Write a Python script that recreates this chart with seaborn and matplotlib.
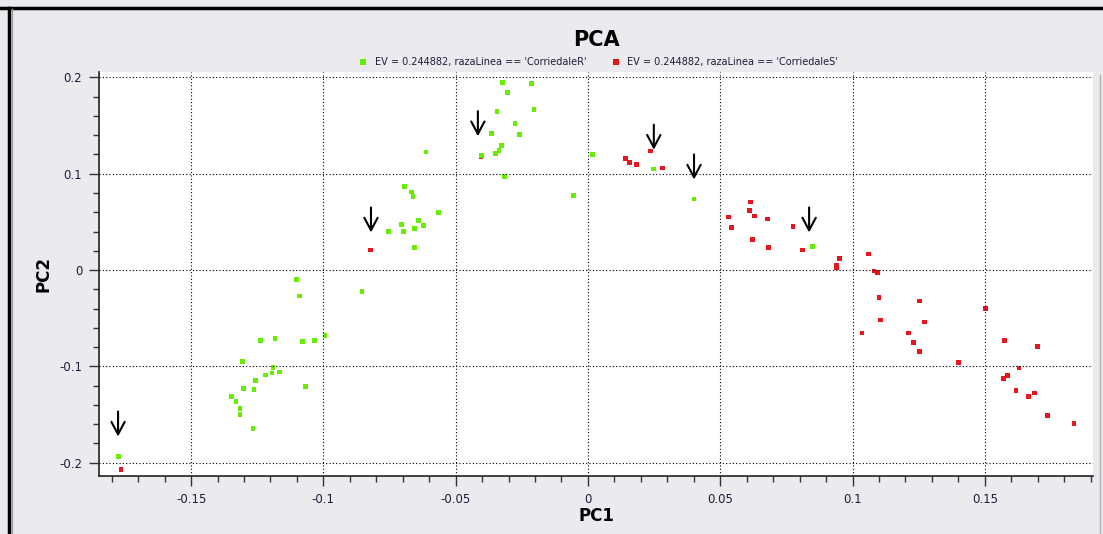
import matplotlib
matplotlib.use('Agg')
import matplotlib.pyplot as plt
import seaborn as sns
import pandas as pd
from matplotlib.lines import Line2D
from matplotlib.ticker import MultipleLocator

# --- data ---
label_r = "EV = 0.244882, razaLinea == 'CorriedaleR'"
label_s = "EV = 0.244882, razaLinea == 'CorriedaleS'"

green_x = [-0.1773, -0.1102, -0.1091, -0.0854, -0.1238, -0.1183, -0.1078, -0.1034, -0.0994,
           -0.1306, -0.1190, -0.1218, -0.1194, -0.1167, -0.1255, -0.1303, -0.1262, -0.1066,
           -0.1347, -0.1330, -0.1315, -0.1315, -0.1266,
           -0.0324, -0.0212, -0.0304, -0.0344, -0.0204, -0.0276, -0.0364, -0.0259, -0.0328,
           -0.0336, -0.0349, -0.0401, 0.0016, -0.0612, -0.0316, -0.0055, -0.0693, -0.0667,
           -0.0661, -0.0566, -0.0705, -0.0641, -0.0621, -0.0654, -0.0753, -0.0698, -0.0656,
           0.0249, 0.0401, 0.0848]
green_y = [-0.194, -0.010, -0.027, -0.022, -0.073, -0.071, -0.074, -0.073, -0.068,
           -0.095, -0.101, -0.109, -0.107, -0.106, -0.115, -0.123, -0.124, -0.121,
           -0.131, -0.137, -0.144, -0.150, -0.165,
           0.195, 0.194, 0.184, 0.165, 0.167, 0.152, 0.142, 0.141, 0.129,
           0.124, 0.121, 0.119, 0.120, 0.1226, 0.097, 0.077, 0.087, 0.081,
           0.076, 0.060, 0.047, 0.0516, 0.046, 0.043, 0.040, 0.040, 0.023,
           0.105, 0.0738, 0.024]

red_x = [-0.1765, -0.0821, -0.0404, 0.0141, 0.0158, 0.0185, 0.0237, 0.0281,
         0.0613, 0.0610, 0.0630, 0.0530, 0.0678, 0.0542, 0.0775, 0.0622, 0.0683, 0.0811,
         0.0951, 0.0938, 0.0938,
         0.1059, 0.1081, 0.1095, 0.1100, 0.1253, 0.1107, 0.1271, 0.1036, 0.1212, 0.1232,
         0.1253, 0.1401, 0.1504, 0.1573, 0.1700, 0.1629, 0.1585, 0.1572, 0.1618, 0.1689,
         0.1666, 0.1737, 0.1837]
red_y = [-0.207, 0.0208, 0.118, 0.1157, 0.1115, 0.110, 0.1236, 0.106,
         0.0706, 0.0616, 0.0561, 0.0551, 0.053, 0.044, 0.045, 0.032, 0.023, 0.0208,
         0.012, 0.005, 0.002,
         0.0166, -0.001, -0.0024, -0.0288, -0.0322, -0.052, -0.054, -0.0655, -0.0655, -0.075,
         -0.085, -0.096, -0.040, -0.073, -0.0797, -0.1018, -0.1094, -0.113, -0.125, -0.1278,
         -0.1316, -0.1514, -0.1593]

# arrows marking single samples (x, tip y)
arrow_x = [-0.1776, -0.0820, -0.0416, 0.0249, 0.0401, 0.0836]
arrow_tip = [-0.173, 0.039, 0.139, 0.125, 0.094, 0.039]

df = pd.concat([
    pd.DataFrame({'PC1': red_x, 'PC2': red_y, 'grupo': label_s}),
    pd.DataFrame({'PC1': green_x, 'PC2': green_y, 'grupo': label_r}),
], ignore_index=True)

bg = '#ebebef'
txt = '#1c1c3a'
plt.rcParams['font.family'] = ['DejaVu Sans']

fig = plt.figure(figsize=(11.03, 5.34), dpi=100, facecolor=bg)
ax = fig.add_axes([99 / 1103, 1 - 476 / 534, (1093 - 99) / 1103, (476 - 72) / 534])
ax.set_facecolor('white')

sns.scatterplot(data=df, x='PC1', y='PC2', hue='grupo', hue_order=[label_r, label_s],
                palette={label_r: '#66ee00', label_s: '#e8141e'},
                marker='s', s=12, linewidth=0, ax=ax)

for x, t in zip(arrow_x, arrow_tip):
    ax.annotate('', xy=(x, t), xytext=(x, t + 0.026),
                arrowprops=dict(arrowstyle='->,head_length=0.6,head_width=0.32',
                                color='black', lw=1.5, mutation_scale=15, shrinkA=0, shrinkB=0))

ax.set_xlim(-0.1848, 0.1909)
ax.set_ylim(-0.214, 0.2057)
ax.xaxis.set_minor_locator(MultipleLocator(0.01))
ax.yaxis.set_minor_locator(MultipleLocator(0.02))
ax.set_xticks([-0.15, -0.1, -0.05, 0, 0.05, 0.1, 0.15])
ax.set_xticklabels(['-0.15', '-0.1', '-0.05', '0', '0.05', '0.1', '0.15'])
ax.set_yticks([-0.2, -0.1, 0, 0.1, 0.2])
ax.set_yticklabels(['-0.2', '-0.1', '0', '0.1', '0.2'])
ax.tick_params(which='major', length=7, width=1, color='#333333', labelsize=8.5,
               labelcolor=txt, pad=5)
ax.tick_params(which='minor', length=4, width=1, color='#333333')
ax.grid(True, which='major', color='black', linestyle=(0, (1, 2)), linewidth=0.8)

for s in ['top', 'right']:
    ax.spines[s].set_visible(False)
for s in ['left', 'bottom']:
    ax.spines[s].set_color('#222222')
    ax.spines[s].set_linewidth(1.2)

ax.set_xlabel('PC1', fontsize=12, fontweight='bold', labelpad=1)
ax.set_ylabel('PC2', fontsize=12, fontweight='bold', labelpad=5)
ax.set_title('PCA', fontsize=15, fontweight='bold', pad=19)

sns.move_legend(ax, 'lower center', bbox_to_anchor=(0.5, 1.0), ncol=2, frameon=False,
                title=None, fontsize=7, handletextpad=0.2, columnspacing=2.0,
                markerscale=1.4, borderaxespad=0.1)
for t in ax.get_legend().get_texts():
    t.set_color(txt)

# window frame of the screenshot
fig.add_artist(Line2D([0, 1], [1 - 8 / 534] * 2, color='black', lw=2.5, transform=fig.transFigure))
fig.add_artist(Line2D([9 / 1103] * 2, [0, 1 - 8 / 534], color='black', lw=2.5, transform=fig.transFigure))
fig.add_artist(Line2D([12 / 1103] * 2, [0, 1 - 9 / 534], color='#9a9a9a', lw=1, transform=fig.transFigure))
fig.add_artist(Line2D([1100 / 1103] * 2, [0, 1 - 75 / 534], color='#b0b0b0', lw=1, transform=fig.transFigure))

plt.savefig('out.png', dpi=100, facecolor=bg)
